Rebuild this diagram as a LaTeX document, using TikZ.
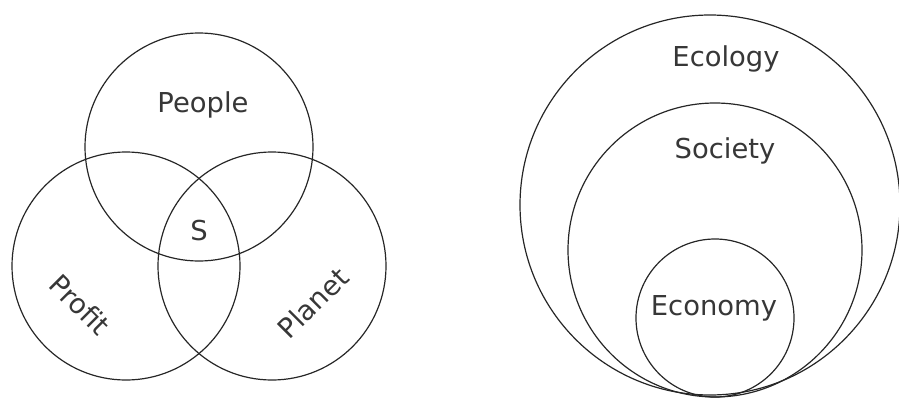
\documentclass[tikz,border=0pt]{standalone}
\usepackage{fontspec}
\setmainfont{DejaVu Sans}
\usepackage{tikz}
\usepackage{xcolor}
\definecolor{txtgray}{RGB}{55,55,55}
\tikzset{
  ring/.style={line width=0.6pt,black!85},
  lbl/.style={inner sep=0pt,text=txtgray,font=\fontsize{13.7}{16}\selectfont}
}

\begin{document}
\begin{tikzpicture}[x=0.5pt,y=0.5pt]
  \useasboundingbox (0,0) rectangle (899,398);

  % three overlapping circles
  \draw[ring] (199,251) circle[radius=114];
  \draw[ring] (126,132) circle[radius=114];
  \draw[ring] (272,132) circle[radius=114];

  \node[lbl] (people) at (203,293) {People};
  \node[lbl] (core) at (199,167) {S};
  \node[lbl,rotate=-45] (profit) at (80,93) {Profit};
  \node[lbl,rotate=45] (planet) at (313,95) {Planet};

  % nested circles
  \draw[ring] (710,193) circle[radius=190];
  \draw[ring] (715,148) circle[radius=147];
  \draw[ring] (715,80) circle[radius=79];

  \node[lbl] (ecology) at (726,339) {Ecology};
  \node[lbl] (society) at (725,247) {Society};
  \node[lbl] (economy) at (714,90) {Economy};
\end{tikzpicture}
\end{document}
